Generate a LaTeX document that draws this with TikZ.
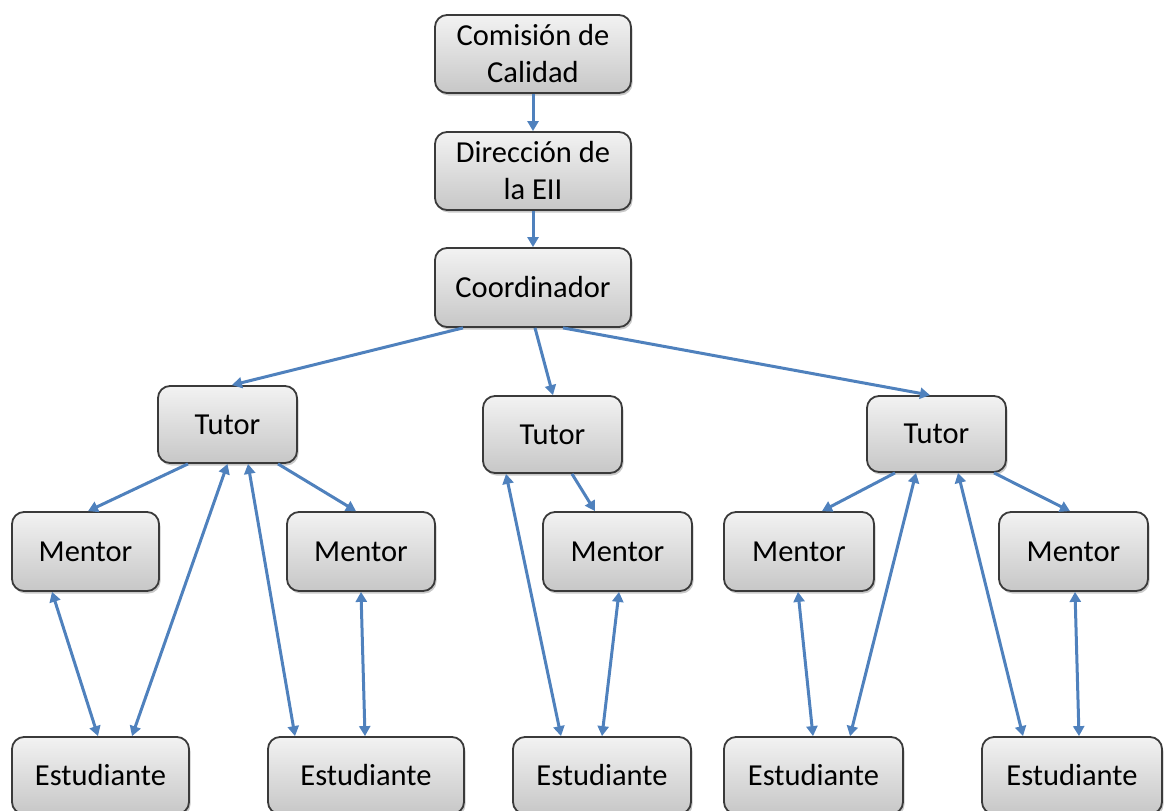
\documentclass[tikz,border=0pt]{standalone}
\usepackage{fontspec}
\setmainfont{Carlito}
\usetikzlibrary{arrows.meta,shadows}
\definecolor{arrowblue}{HTML}{4F81BD}
\definecolor{boxborder}{HTML}{3A3A3A}
\tikzset{
  box/.style={draw=boxborder, line width=1.8pt, rounded corners=12pt,
    top color=white!95!black, bottom color=black!22,
    drop shadow={shadow xshift=1.5pt, shadow yshift=-2.5pt, opacity=0.3, fill=black!70},
    align=center, inner sep=0pt, text=black,
    font=\fontsize{30.5}{37}\selectfont},
  conn/.style={draw=arrowblue, line width=3pt, -{Triangle[length=10pt,width=11pt]}},
  biconn/.style={draw=arrowblue, line width=3pt, {Triangle[length=10pt,width=11pt]}-{Triangle[length=10pt,width=11pt]}}
}
\begin{document}
\begin{tikzpicture}[x=1pt,y=-1pt]
\useasboundingbox (0,0) rectangle (1167,811);
\clip (0,0) rectangle (1167,811);
% top chain
\node[box, minimum width=196pt, minimum height=78pt] (com) at (533,54) {Comisión de\\Calidad};
\node[box, minimum width=196pt, minimum height=78pt] (dir) at (533,171) {Dirección de\\la EII};
\node[box, minimum width=196pt, minimum height=79pt] (coord) at (533,287.5) {Coordinador};
% tutors
\node[box, minimum width=139pt, minimum height=77pt] (tl) at (227.5,424.5) {Tutor};
\node[box, minimum width=139pt, minimum height=77pt] (tm) at (552.5,434.5) {Tutor};
\node[box, minimum width=139pt, minimum height=76pt] (tr) at (936.5,434) {Tutor};
% mentors
\node[box, minimum width=147pt, minimum height=79pt] (m1) at (85.5,551.5) {Mentor};
\node[box, minimum width=148pt, minimum height=79pt] (m2) at (361,551.5) {Mentor};
\node[box, minimum width=149pt, minimum height=79pt] (m3) at (617.5,551.5) {Mentor};
\node[box, minimum width=150pt, minimum height=79pt] (m4) at (799,551.5) {Mentor};
\node[box, minimum width=149pt, minimum height=79pt] (m5) at (1073.5,551.5) {Mentor};
% students
\node[box, minimum width=177pt, minimum height=77pt] (e1) at (100.5,775.5) {Estudiante};
\node[box, minimum width=196pt, minimum height=77pt] (e2) at (366,775.5) {Estudiante};
\node[box, minimum width=178pt, minimum height=77pt] (e3) at (602,775.5) {Estudiante};
\node[box, minimum width=179pt, minimum height=77pt] (e4) at (813.5,775.5) {Estudiante};
\node[box, minimum width=180pt, minimum height=77pt] (e5) at (1072,775.5) {Estudiante};
% connectors
\draw[conn] (com.south) -- (dir.north);
\draw[conn] (dir.south) -- (coord.north);
\draw[conn] ([xshift=-70pt]coord.south) -- ([xshift=4.5pt]tl.north);
\draw[conn] ([xshift=2pt]coord.south) -- ([xshift=0.5pt]tm.north);
\draw[conn] ([xshift=30pt]coord.south) -- ([xshift=-6.5pt]tr.north);
% left group
\draw[conn] ([xshift=-39.5pt]tl.south) -- ([xshift=2.5pt]m1.north);
\draw[biconn] ([xshift=-33.5pt]m1.south) -- ([xshift=-2.5pt]e1.north);
\draw[biconn] (tl.south) -- ([xshift=31.5pt]e1.north);
\draw[biconn] ([xshift=20.5pt]tl.south) -- ([xshift=-71pt]e2.north);
\draw[conn] ([xshift=50.5pt]tl.south) -- ([xshift=-5pt]m2.north);
\draw[biconn] (m2.south) -- ([xshift=-1pt]e2.north);
% middle group
\draw[biconn] ([xshift=-46.5pt]tm.south) -- ([xshift=-41pt]e3.north);
\draw[conn] ([xshift=19.5pt]tm.south) -- ([xshift=-22.5pt]m3.north);
\draw[biconn] ([xshift=1.5pt]m3.south) -- (e3.north);
% right group
\draw[conn] ([xshift=-41.5pt]tr.south) -- ([xshift=23pt]m4.north);
\draw[biconn] ([xshift=-20.5pt]tr.south) -- ([xshift=36.5pt]e4.north);
\draw[biconn] ([xshift=21.5pt]tr.south) -- ([xshift=-49pt]e5.north);
\draw[conn] ([xshift=57.5pt]tr.south) -- ([xshift=-3.5pt]m5.north);
\draw[biconn] ([xshift=-1pt]m4.south) -- ([xshift=-0.5pt]e4.north);
\draw[biconn] ([xshift=1.5pt]m5.south) -- ([xshift=7pt]e5.north);
\end{tikzpicture}
\end{document}
